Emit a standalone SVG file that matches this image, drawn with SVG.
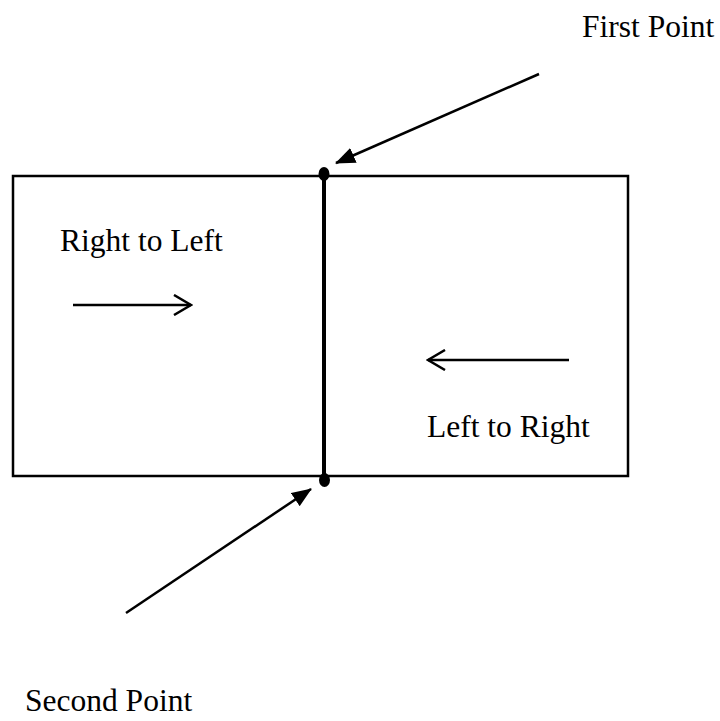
<svg xmlns="http://www.w3.org/2000/svg" width="720" height="721" viewBox="0 0 720 721">
<style>
text{font-family:"Liberation Serif","Times New Roman",serif;font-size:31.5px;fill:#000}
.ln{stroke:#000;stroke-width:2.5;fill:none}
</style>
<defs>
<marker id="big" markerWidth="20" markerHeight="16" refX="19" refY="8" orient="auto" markerUnits="userSpaceOnUse">
<path d="M0,0 L20,8 L0,16 z" fill="#000"/>
</marker>
<marker id="open" markerWidth="20" markerHeight="22" refX="18" refY="11" orient="auto" markerUnits="userSpaceOnUse">
<path d="M1,1 L18,11 L1,21" fill="none" stroke="#000" stroke-width="2.5"/>
</marker>
</defs>
<rect x="13" y="176" width="615" height="300" fill="none" stroke="#000" stroke-width="2.5"/>
<g id="divider">
<line x1="324" y1="174" x2="324" y2="480" stroke="#000" stroke-width="4"/>
<ellipse cx="324" cy="174" rx="5.5" ry="7" fill="#000"/>
<ellipse cx="324.5" cy="480" rx="5.5" ry="7" fill="#000"/>
</g>
<g id="connectors">
<line class="ln" x1="539" y1="74" x2="336" y2="163" marker-end="url(#big)"/>
<line class="ln" x1="126" y1="613" x2="311" y2="489" marker-end="url(#big)"/>
<line class="ln" x1="73" y1="305" x2="191" y2="305" marker-end="url(#open)"/>
<line class="ln" x1="569" y1="360" x2="428" y2="360" marker-end="url(#open)"/>
</g>
<g id="first-point"><text x="582" y="37">First Point</text></g>
<g id="right-to-left"><text x="60" y="251">Right to Left</text></g>
<g id="left-to-right"><text x="427" y="437">Left to Right</text></g>
<g id="second-point"><text x="25" y="711">Second Point</text></g>
</svg>
